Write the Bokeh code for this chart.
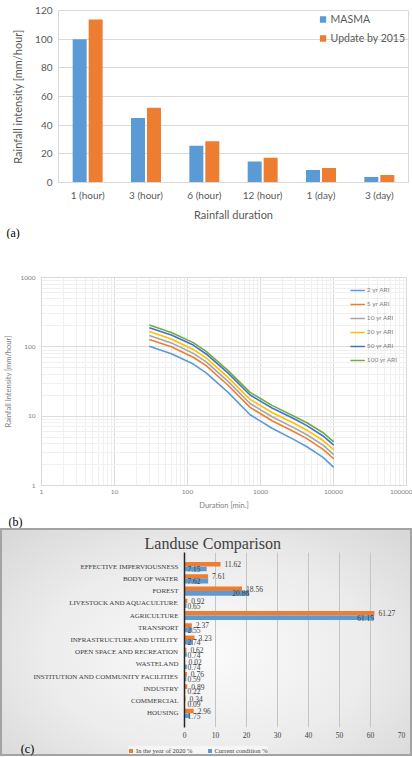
import numpy as np
from bokeh.plotting import figure
from bokeh.layouts import column
from bokeh.models import (FactorRange, Range1d, Legend, LegendItem, Label, Title,
                          FixedTicker, SingleIntervalTicker, PrintfTickFormatter,
                          ColumnDataSource)
from bokeh.transform import dodge
from bokeh.core.properties import value
from bokeh.embed import file_html
from bokeh.resources import INLINE

# ---------------- data: panel (a) ----------------
durations_a = ["1 (hour)", "3 (hour)", "6 (hour)", "12 (hour)", "1 (day)", "3 (day)"]
masma = [100.0, 45.0, 25.7, 14.6, 8.8, 3.8]
update_2015 = [113.8, 52.2, 28.7, 17.2, 10.2, 5.3]

# ---------------- data: panel (b) ----------------
idf_minutes = [30, 60, 120, 180, 360, 720, 1440, 2880, 4320, 7200, 10080]
ari_2 = [102, 79.6, 56.4, 42.1, 22.0, 10.5, 6.70, 4.59, 3.62, 2.54, 1.83]
ari_5 = [128, 100, 70.8, 53.5, 27.9, 13.4, 8.59, 5.96, 4.74, 3.32, 2.43]
ari_10 = [146, 114, 80.5, 60.8, 31.8, 15.2, 9.79, 6.78, 5.40, 3.82, 2.79]
ari_20 = [166, 130, 91.7, 69.2, 36.2, 17.5, 11.3, 7.89, 6.28, 4.45, 3.28]
ari_50 = [189, 148, 106, 78.9, 41.7, 20.2, 13.1, 9.16, 7.31, 5.18, 3.82]
ari_100 = [206, 161, 115, 85.9, 45.4, 22.0, 14.3, 10.0, 8.05, 5.77, 4.26]
ari_labels = ["2 yr ARI", "5 yr ARI", "10 yr ARI", "20 yr ARI", "50 yr ARI", "100 yr ARI"]

# ---------------- data: panel (c) ----------------
landuse = ["EFFECTIVE IMPERVIOUSNESS", "BODY OF WATER", "FOREST",
           "LIVESTOCK AND AQUACULTURE", "AGRICULTURE", "TRANSPORT",
           "INFRASTRUCTURE AND UTILITY", "OPEN SPACE AND RECREATION", "WASTELAND",
           "INSTITUTION AND COMMUNITY FACILITIES", "INDUSTRY", "COMMERCIAL", "HOUSING"]
year_2020 = [11.62, 7.61, 18.56, 0.92, 61.27, 2.37, 3.23, 0.62, 0.02, 0.76, 0.89, 0.34, 2.96]
current = [7.15, 7.62, 20.86, 0.65, 61.15, 2.55, 2.74, 0.74, 0.74, 0.59, 0.22, 0.09, 1.75]
legend_c = ["In the year of 2020 %", "Current condition %"]

ORANGE = "#ed7d31"
BLUE = "#5b9bd5"
GRAY_TXT = "#595959"
SANS = "Lato"
SERIF = "Liberation Serif"
W = 412

# ======================= panel (a) =======================
pa = figure(x_range=FactorRange(factors=durations_a, range_padding=0),
            y_range=Range1d(0, 120), width=W, height=239,
            output_backend="svg", toolbar_location=None, frame_align=False,
            min_border_left=58, min_border_right=4, min_border_top=10, min_border_bottom=48)
src_a = ColumnDataSource(dict(cat=durations_a, masma=masma, upd=update_2015))
ra1 = pa.vbar(x=dodge("cat", -0.137, range=pa.x_range), top="masma", width=0.24,
              fill_color=BLUE, line_color=None, source=src_a)
ra2 = pa.vbar(x=dodge("cat", 0.137, range=pa.x_range), top="upd", width=0.24,
              fill_color=ORANGE, line_color=None, source=src_a)
leg_a = Legend(items=[LegendItem(label="MASMA", renderers=[ra1]),
                      LegendItem(label="Update by 2015", renderers=[ra2])],
               location="top_right", margin=3, padding=2, spacing=7,
               glyph_width=8, glyph_height=8, label_height=12, label_standoff=4,
               label_text_font=SANS, label_text_font_size="10.5px",
               label_text_color=GRAY_TXT, background_fill_alpha=0, border_line_color=None)
pa.add_layout(leg_a)
pa.yaxis.ticker = SingleIntervalTicker(interval=20)
pa.xgrid.grid_line_color = None
pa.ygrid.grid_line_color = "#d9d9d9"
pa.outline_line_color = "#d9d9d9"
for ax in (pa.xaxis, pa.yaxis):
    ax.major_tick_line_color = None
    ax.minor_tick_line_color = None
    ax.major_tick_out = 0
    ax.minor_tick_out = 0
    ax.major_label_text_font = SANS
    ax.major_label_text_font_size = "10px"
    ax.major_label_text_color = GRAY_TXT
    ax.axis_label_text_font = SANS
    ax.axis_label_text_font_size = "11px"
    ax.axis_label_text_font_style = "normal"
    ax.axis_label_text_color = GRAY_TXT
pa.yaxis.axis_line_color = None
pa.xaxis.axis_line_color = "#d9d9d9"
pa.yaxis.axis_label = "Rainfall intensity [mm/hour]"
pa.xaxis.axis_label = "Rainfall duration"
pa.yaxis.major_label_standoff = 6
pa.yaxis.axis_label_standoff = 8
pa.xaxis.major_label_standoff = 6
pa.xaxis.axis_label_standoff = 4
pa.add_layout(Title(text="(a)", align="left", offset=-52, standoff=0, text_font=SERIF,
                    text_font_size="12px", text_font_style="normal", text_color="#000000"),
              "below")

# ======================= panel (b) =======================
pb = figure(x_axis_type="log", y_axis_type="log",
            x_range=Range1d(1, 100000), y_range=Range1d(1, 1000),
            width=W, height=289, output_backend="svg", toolbar_location=None,
            frame_align=False,
            min_border_left=41, min_border_right=6, min_border_top=38, min_border_bottom=39)
x_tick = FixedTicker(ticks=[1, 10, 100, 1000, 10000, 100000],
                     minor_ticks=[k * 10 ** e for e in range(0, 5) for k in range(2, 10)])
y_tick = FixedTicker(ticks=[1, 10, 100, 1000],
                     minor_ticks=[k * 10 ** e for e in range(0, 3) for k in range(2, 10)])
pb.xaxis.ticker = x_tick
pb.yaxis.ticker = y_tick
pb.xgrid.ticker = x_tick
pb.ygrid.ticker = y_tick
for g in (pb.xgrid, pb.ygrid):
    g.grid_line_color = "#dcdcdc"
    g.minor_grid_line_color = "#f0f0f0"
pb.outline_line_color = "#d9d9d9"
for ax in (pb.xaxis, pb.yaxis):
    ax.formatter = PrintfTickFormatter(format="%d")
    ax.major_tick_line_color = None
    ax.minor_tick_line_color = None
    ax.major_tick_out = 0
    ax.minor_tick_out = 0
    ax.axis_line_color = "#d9d9d9"
    ax.major_label_text_font = SANS
    ax.major_label_text_font_size = "6.5px"
    ax.major_label_text_color = "#7f7f7f"
    ax.axis_label_text_font = SANS
    ax.axis_label_text_font_size = "7.5px"
    ax.axis_label_text_font_style = "normal"
    ax.axis_label_text_color = "#7f7f7f"
pb.yaxis.axis_label = "Rainfall Intensity [mm/hour]"
pb.xaxis.axis_label = "Duration [min.]"
pb.yaxis.major_label_standoff = 6
pb.yaxis.axis_label_standoff = 4
pb.xaxis.major_label_standoff = 4
pb.xaxis.axis_label_standoff = 4
ari_series = [ari_2, ari_5, ari_10, ari_20, ari_50, ari_100]
ari_colors = ["#5b9bd5", "#ed7d31", "#a5a5a5", "#ffc000", "#4472c4", "#70ad47"]
items_b = []
for lab, vals, col in zip(ari_labels, ari_series, ari_colors):
    r = pb.line(idf_minutes, vals, line_color=col, line_width=1.6)
    items_b.append(LegendItem(label=lab, renderers=[r]))
leg_b = Legend(items=items_b, location="top_right", margin=9, padding=3, spacing=7,
               glyph_width=15, glyph_height=6, label_height=6, label_standoff=2,
               label_text_font=SANS, label_text_font_size="6.5px",
               label_text_color="#7f7f7f", background_fill_alpha=0, border_line_color=None)
pb.add_layout(leg_b)
pb.add_layout(Title(text="(b)", align="left", offset=-33, standoff=0, text_font=SERIF,
                    text_font_size="12px", text_font_style="normal", text_color="#000000"),
              "below")

# ======================= panel (c) =======================
cats_c = landuse[::-1]
pc = figure(y_range=FactorRange(factors=cats_c, range_padding=0.1),
            x_range=Range1d(0, 70), width=W, height=212,
            output_backend="svg", toolbar_location=None, frame_align=False,
            min_border_left=184, min_border_right=11, min_border_top=24, min_border_bottom=13)
pc.border_fill_alpha = 0
pc.background_fill_alpha = 0
blue_label_x = np.where(np.array(current) < 10, 5.2, np.array(current))
src_c = ColumnDataSource(dict(cat=landuse, y2020=year_2020, cur=current,
                              t2020=["%.2f" % v for v in year_2020],
                              tcur=["%.2f" % v for v in current],
                              bx=blue_label_x))
rc1 = pc.hbar(y=dodge("cat", 0.19, range=pc.y_range), right="y2020", height=0.37,
              fill_color=ORANGE, line_color=None, source=src_c)
rc2 = pc.hbar(y=dodge("cat", -0.19, range=pc.y_range), right="cur", height=0.37,
              fill_color=BLUE, line_color=None, source=src_c)
pc.text(x="y2020", y=dodge("cat", 0.19, range=pc.y_range), text="t2020", x_offset=4,
        text_font=value(SERIF), text_font_size="7.5px", text_color="#404040",
        text_align="left", text_baseline="middle", source=src_c)
pc.text(x="bx", y=dodge("cat", -0.19, range=pc.y_range), text="tcur",
        text_font=value(SERIF), text_font_size="7.5px", text_color="#404040",
        text_align="right", text_baseline="middle", source=src_c)
pc.title.text = "Landuse  Comparison"
pc.title.text_font = SERIF
pc.title.text_font_size = "16px"
pc.title.text_font_style = "normal"
pc.title.text_color = "#404040"
pc.title.align = "left"
pc.title.offset = -40
pc.title.standoff = 2
pc.xaxis.ticker = SingleIntervalTicker(interval=10)
pc.ygrid.grid_line_color = None
pc.xgrid.grid_line_color = "#c4c4c4"
pc.outline_line_color = None
pc.xaxis.axis_line_color = None
pc.yaxis.axis_line_color = "#262626"
pc.yaxis.axis_line_width = 1.5
for ax in (pc.xaxis, pc.yaxis):
    ax.major_tick_line_color = None
    ax.minor_tick_line_color = None
    ax.major_tick_out = 0
    ax.minor_tick_out = 0
    ax.major_label_text_font = SERIF
    ax.major_label_text_color = "#404040"
pc.xaxis.major_label_text_font_size = "7.5px"
pc.yaxis.major_label_text_font_size = "7px"
pc.xaxis.major_label_standoff = 4
pc.yaxis.major_label_standoff = 6

# legend strip of panel (c): renderers carry only NaN so they draw nothing,
# they exist so the legend can show the two series' swatches
pl = figure(x_range=Range1d(0, 1), y_range=Range1d(0, 1), width=W, height=16,
            output_backend="svg", toolbar_location=None, frame_align=False,
            x_axis_location=None, y_axis_location=None, min_border=0)
pl.border_fill_alpha = 0
pl.background_fill_alpha = 0
pl.outline_line_color = None
pl.grid.visible = False
rl1 = pl.hbar(y=[np.nan], right=[np.nan], height=0.5, fill_color=ORANGE, line_color=None)
rl2 = pl.hbar(y=[np.nan], right=[np.nan], height=0.5, fill_color=BLUE, line_color=None)
leg_c = Legend(items=[LegendItem(label=legend_c[0], renderers=[rl1]),
                      LegendItem(label=legend_c[1], renderers=[rl2])],
               orientation="horizontal", location=(128, 2), margin=0, padding=2,
               spacing=14, glyph_width=5, glyph_height=5, label_height=8, label_standoff=3,
               label_text_font=SERIF, label_text_font_size="6.5px", label_text_color="#404040",
               background_fill_color="#f7f7f7", background_fill_alpha=0.8,
               border_line_color=None)
pl.add_layout(leg_c)
pl.add_layout(Label(x=27 / W, y=0.5, text="(c)", text_font=SERIF, text_font_size="12px",
                    text_color="#000000", text_align="center", text_baseline="middle"))

panel_c = column(pc, pl, spacing=0,
                 styles={"background": "radial-gradient(ellipse at 50% 55%, #fbfbfb 0%, #ececec 55%, #d6d6d6 100%)",
                         "outline": "2px solid #a3a3a3", "outline-offset": "-2px"})

layout = column(pa, pb, panel_c, spacing=0)
open("out.html", "w").write(file_html(layout, INLINE))
